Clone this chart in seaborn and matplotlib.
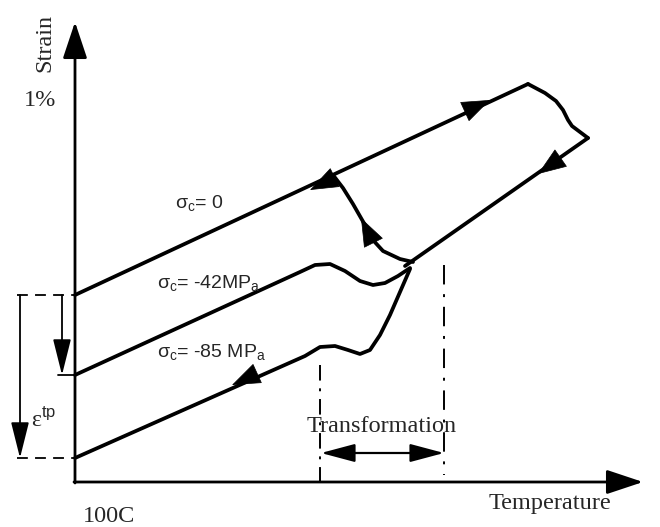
import matplotlib
matplotlib.use("Agg")
import matplotlib.pyplot as plt
import seaborn as sns
import pandas as pd

# ---- schematic data (temperature units, strain units; origin = 100C, 0) ----
# sigma_c = 0 heating line
t_zero = [0, 453]
s_zero = [187, 398]
# top-right reverse cap
t_cap = [453, 470, 481, 488, 493, 497, 505, 513]
s_cap = [398, 389, 381, 372, 362, 356, 350, 344]
# cooling straight line back to the junction
t_cool = [513, 330]
s_cool = [344, 216]
# branch from sigma_c = 0 line down to junction
t_branch = [258, 268, 278, 290, 297, 308, 325, 338]
s_branch = [307, 294, 278, 257, 243, 231, 223, 220]
# sigma_c = -42 MPa
t_m42 = [0, 225, 240, 255, 270, 285, 298, 310, 323, 335]
s_m42 = [107, 210, 217, 218, 211, 201, 197, 199, 206, 214]
# sigma_c = -85 MPa
t_m85 = [0, 230, 245, 260, 273, 285, 295, 305, 315, 325, 335]
s_m85 = [24, 126, 135, 136, 132, 128, 132, 147, 167, 190, 213]

curves = {
    "zero": (t_zero, s_zero),
    "cap": (t_cap, s_cap),
    "cool": (t_cool, s_cool),
    "branch": (t_branch, s_branch),
    "m42": (t_m42, s_m42),
    "m85": (t_m85, s_m85),
}

# direction arrows along curves: (tail T, tail S, tip T, tip S)
curve_arrows = [
    (391, 371, 415, 382),
    (259, 304, 235, 292),
    (294, 248, 286, 264),
    (483, 322, 463, 308),
    (179, 107, 157, 97),
]

T_start, T_end = 245, 369        # transformation range
eps_levels = [187, 107, 24]      # strain at 100C for the three stresses

labels = ["σ$_{\\mathrm{c}}$= 0", "σ$_{\\mathrm{c}}$= -42MP$_{\\mathrm{a}}$",
          "σ$_{\\mathrm{c}}$= -85 MP$_{\\mathrm{a}}$"]

sns.set_theme(style="white")
plt.rcParams["font.family"] = ["Liberation Serif", "DejaVu Serif"]
plt.rcParams["mathtext.fontset"] = "custom"
plt.rcParams["mathtext.rm"] = "Liberation Sans"
plt.rcParams["mathtext.it"] = "Liberation Sans:italic"

fig = plt.figure(figsize=(6.6, 5.27), dpi=100)
ax = fig.add_axes([0, 0, 1, 1])
ax.set_xlim(-75, 585)
ax.set_ylim(-45, 482)
ax.axis("off")

for name, (t, s) in curves.items():
    df = pd.DataFrame({"T": t, "S": s})
    sns.lineplot(data=df, x="T", y="S", sort=False, estimator=None,
                 color="black", lw=2.7, ax=ax, solid_capstyle="round",
                 solid_joinstyle="round")

for (x0, y0, x1, y1) in curve_arrows:
    ax.annotate("", xy=(x1, y1), xytext=(x0, y0),
                arrowprops=dict(arrowstyle="-|>,head_length=1.2,head_width=0.45",
                                color="black", lw=0.5, mutation_scale=16,
                                shrinkA=0, shrinkB=0))

# axes arrows
ax.annotate("", xy=(0, 460), xytext=(0, -1),
            arrowprops=dict(arrowstyle="-|>,head_length=1.5,head_width=0.5",
                            color="black", lw=2.0, mutation_scale=15,
                            shrinkA=0, shrinkB=0))
ax.annotate("", xy=(568, 0), xytext=(-1, 0),
            arrowprops=dict(arrowstyle="-|>,head_length=1.5,head_width=0.5",
                            color="black", lw=2.0, mutation_scale=15,
                            shrinkA=0, shrinkB=0))

# epsilon construction
for lev in [eps_levels[0], eps_levels[2]]:
    ax.plot([-58, 0], [lev, lev], color="black", lw=1.3, ls=(0, (6, 4)))
ax.plot([-17, 0], [eps_levels[1], eps_levels[1]], color="black", lw=1.3)
ax.annotate("", xy=(-55, eps_levels[2]), xytext=(-55, eps_levels[0]),
            arrowprops=dict(arrowstyle="-|>,head_length=1.6,head_width=0.4",
                            color="black", lw=1.3, mutation_scale=14,
                            shrinkA=0, shrinkB=0))
ax.annotate("", xy=(-13, eps_levels[1]), xytext=(-13, eps_levels[0]),
            arrowprops=dict(arrowstyle="-|>,head_length=1.6,head_width=0.4",
                            color="black", lw=1.3, mutation_scale=14,
                            shrinkA=0, shrinkB=0))

# transformation range
ax.plot([T_start, T_start], [117, 0], color="black", lw=1.4,
        ls=(0, (8, 4, 1.5, 4)))
ax.plot([T_end, T_end], [217, 7], color="black", lw=1.4,
        ls=(0, (10, 5, 1.5, 5)))
ax.annotate("", xy=(T_start + 1, 29), xytext=(T_end, 29),
            arrowprops=dict(arrowstyle="<|-|>,head_length=1.5,head_width=0.4",
                            color="black", lw=1.6, mutation_scale=14,
                            shrinkA=0, shrinkB=0))

# texts
sans = ["Liberation Sans", "DejaVu Sans"]
ax.text(100, 279, labels[0], family=sans, fontsize=14, va="center", ha="left")
ax.text(82, 199, labels[1], family=sans, fontsize=14, va="center", ha="left")
ax.text(82, 130, labels[2], family=sans, fontsize=14, va="center", ha="left")

ax.text(307, 55, "Transformation", fontsize=17.5, ha="center", va="center")
ax.text(475, -21, "Temperature", fontsize=17.5, ha="center", va="center")
ax.text(34, -35, "100C", fontsize=17.5, ha="center", va="center")
ax.text(-30, 439, "Strain", fontsize=17.5, ha="center", va="center", rotation=90)
ax.text(-35, 382, "1%", fontsize=17.5, ha="center", va="center")
ax.text(-44, 62, "ε$^{\\mathrm{tp}}$", fontsize=17, ha="left", va="center")

fig.savefig("out.png", dpi=100)
